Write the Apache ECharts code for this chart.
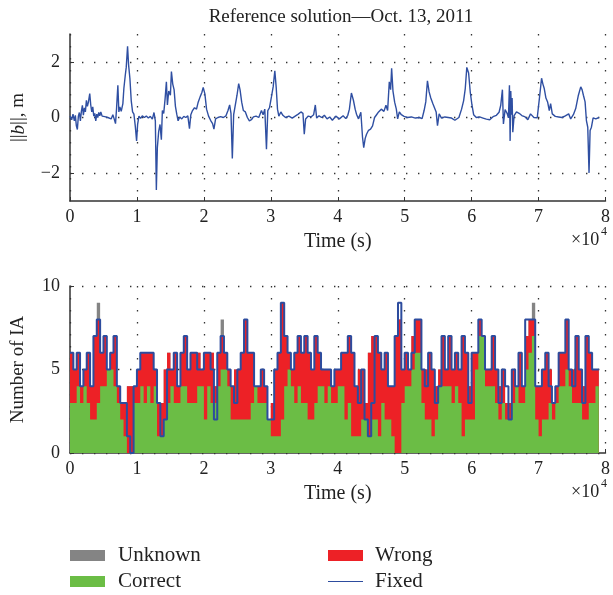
<!DOCTYPE html>
<html>
<head>
<meta charset="utf-8">
<script src="https://cdn.jsdelivr.net/npm/echarts@6/dist/echarts.min.js"></script>
<style>
html,body{margin:0;padding:0;background:#fff;}
#main{width:613px;height:595px;}
</style>
</head>
<body>
<div id="main"></div>
<script>
// ||b|| (m) against time (s)
var normB = [[0,0.05],[250,-0.08],[450,0.12],[650,-0.12],[800,0.08],[950,-0.3],[1100,-0.43],[1250,0.05],[1400,0.18],[1550,-0.12],[1700,0.22],[1850,0.44],[2000,0.08],[2150,0.35],[2300,0.2],[2450,0.62],[2600,0.4],[2750,0.55],[2950,0.86],[3100,0.45],[3250,0.2],[3400,0.38],[3550,0.05],[3700,0.15],[3850,-0.12],[4000,0.12],[4150,0.0],[4300,0.18],[4450,0.06],[4600,0.2],[4800,0.05],[5000,0.12],[5200,0.03],[5400,0.1],[5650,0.0],[5900,0.06],[6150,-0.05],[6400,0.1],[6600,-0.05],[6800,-0.22],[6950,0.3],[7150,1.16],[7300,0.2],[7450,0.38],[7650,0.22],[7900,0.5],[8050,1.05],[8250,1.5],[8400,1.8],[8600,2.56],[8750,1.9],[8950,1.4],[9150,0.6],[9350,0.2],[9550,0.12],[9750,-0.3],[9950,-0.84],[10100,-0.25],[10300,0.05],[10550,-0.03],[10800,0.06],[11100,0.0],[11400,0.05],[11700,-0.02],[12000,0.04],[12300,-0.06],[12550,0.18],[12750,-0.12],[12900,-2.6],[13050,-1.08],[13250,-0.5],[13450,-0.25],[13650,-0.8],[13800,0.25],[14000,0.15],[14200,0.65],[14400,1.28],[14550,0.45],[14750,0.95],[15000,0.8],[15150,1.65],[15350,1.2],[15550,1.0],[15750,0.4],[15950,0.12],[16150,-0.12],[16400,0.02],[16700,-0.05],[17000,0.04],[17300,0.0],[17600,0.06],[17850,-0.4],[18050,0.1],[18300,0.25],[18600,0.35],[18900,0.3],[19150,0.55],[19450,0.75],[19700,0.9],[19900,1.08],[20150,0.85],[20400,0.3],[20700,0.05],[21000,-0.1],[21300,-0.22],[21500,-0.42],[21750,-0.05],[22100,0.0],[22500,0.03],[22900,0.0],[23300,0.06],[23600,0.25],[23850,0.45],[24050,0.15],[24250,-1.47],[24450,0.1],[24700,0.45],[24950,0.8],[25200,1.22],[25400,1.0],[25650,0.55],[25900,0.25],[26200,0.2],[26500,0.0],[26800,-0.12],[27100,-0.08],[27400,0.02],[27800,0.05],[28200,0.0],[28600,0.25],[28850,0.1],[29100,0.3],[29350,-1.14],[29550,0.25],[29800,0.35],[30100,0.75],[30350,1.1],[30600,1.68],[30800,1.1],[31000,0.3],[31200,0.05],[31500,0.2],[31800,0.08],[32200,0.0],[32700,0.05],[33200,-0.02],[33700,0.06],[34100,0.12],[34500,0.2],[34800,0.15],[35000,-0.6],[35200,-0.05],[35600,0.05],[36000,0.02],[36400,0.1],[36650,0.45],[36850,-0.02],[37200,0.06],[37600,0.0],[38000,0.08],[38400,-0.05],[38800,0.02],[39200,-0.1],[39700,0.05],[40250,-0.05],[40800,0.06],[41200,-0.04],[41500,0.08],[41740,0.3],[42040,0.88],[42340,0.62],[42600,0.3],[42800,0.12],[43100,-0.05],[43450,0.19],[43700,-0.71],[43880,-1.08],[44100,-0.75],[44300,-0.6],[44600,-0.46],[44900,-0.42],[45200,-0.3],[45500,0.0],[45800,0.1],[46100,0.2],[46500,0.3],[46900,0.22],[47200,0.44],[47450,0.25],[47700,1.28],[47900,1.0],[48050,1.77],[48250,0.95],[48500,0.55],[48750,0.3],[48950,-0.05],[49200,0.2],[49500,0.1],[49900,0.04],[50400,0.0],[51000,0.02],[51600,-0.02],[52200,0.0],[52600,-0.04],[52900,0.25],[53150,0.56],[53400,1.32],[53650,0.92],[53900,0.7],[54200,0.5],[54450,0.35],[54700,0.2],[54900,-0.29],[55150,0.13],[55500,-0.02],[56000,0.02],[56500,0.0],[57000,-0.02],[57500,-0.1],[57700,-0.17],[58100,0.0],[58500,0.3],[58800,0.6],[59050,1.04],[59280,1.8],[59550,1.6],[59800,0.9],[60050,0.45],[60300,0.1],[60700,0.0],[61200,0.02],[61700,-0.02],[62200,-0.06],[62700,-0.08],[63200,0.03],[63700,0.08],[64100,0.19],[64350,0.44],[64600,1.0],[64750,-0.23],[65000,0.28],[65300,0.15],[65500,-0.01],[65650,1.16],[65750,-0.84],[65850,0.95],[65950,0.1],[66050,0.7],[66150,-0.53],[66350,0.07],[66700,0.2],[67100,0.15],[67500,0.07],[68000,0.02],[68400,-0.08],[68800,0.13],[69300,0.0],[69800,-0.01],[70150,0.74],[70450,1.41],[70650,1.2],[70850,1.04],[71100,0.7],[71350,0.56],[71600,0.25],[71800,0.5],[72050,0.13],[72500,0.04],[73000,0.02],[73500,0.0],[74000,0.06],[74500,0.13],[74800,-0.05],[75200,0.1],[75550,0.32],[75950,0.8],[76300,1.1],[76500,1.0],[76700,0.8],[76950,0.56],[77150,-0.11],[77350,-0.35],[77540,-1.99],[77700,-0.47],[77900,-0.35],[78150,-0.01],[78550,-0.05],[79030,0.0]];

// number of IA per 500 s bin (lower panel)
var binSize = 500;
var correctIA = [3,3,4,3,4,3,2,2,3,4, 4,5,5,4,3,2,1,0,0,3,
  3,4,3,4,3,4,1,1,2,3, 4,3,3,4,4,3,3,3,4,4,
  2,4,3,3,4,5,5,4,2,2, 2,2,2,2,3,4,3,3,3,2,
  1,1,1,2,4,5,4,3,4,3, 3,2,2,3,4,4,3,4,3,3,
  4,4,2,3,1,1,1,2,2,1, 2,2,1,3,2,2,1,0,0,3,
  4,4,5,6,6,3,2,2,1,2, 4,4,4,4,3,4,3,1,2,2,
  2,5,7,7,4,4,4,3,2,3, 2,2,3,4,3,3,5,6,7,2,
  1,2,2,3,2,3,4,4,5,4, 3,3,3,2,2,3,3,4];
var wrongIA = [3,2,2,1,1,3,2,5,5,2, 3,0,1,3,1,1,2,4,4,1,
  2,2,3,2,3,1,2,2,3,3, 1,3,1,2,3,2,3,3,2,1,
  4,2,3,1,2,2,1,1,2,3, 3,4,6,4,3,0,1,2,1,0,
  2,4,5,7,3,1,1,3,3,3, 4,4,3,4,2,1,2,1,1,2,
  1,2,4,4,5,3,4,3,1,5, 5,5,5,2,4,2,3,7,8,2,
  2,1,2,2,2,2,3,4,4,2, 1,3,1,3,2,2,2,6,4,2,
  4,1,1,0,1,1,3,2,2,2, 1,1,2,0,3,1,2,2,1,2,
  3,3,4,2,1,1,2,2,3,1, 2,4,2,2,5,3,2,1];
var unknownIA = [0,0,0,0,0,0,0,0,1,0, 0,0,0,0,0,0,0,0,0,0,
  0,0,0,0,0,0,0,0,0,0, 0,0,0,0,0,0,0,0,0,0,
  0,0,0,0,0,1,0,0,0,0, 0,0,0,0,0,0,0,0,0,0,
  0,0,0,0,0,0,0,0,0,0, 0,0,0,0,0,0,0,0,0,0,
  0,0,0,0,0,0,0,0,0,0, 0,0,0,0,0,0,0,0,0,0,
  0,0,0,0,0,0,0,0,0,0, 0,0,0,0,0,0,0,0,0,0,
  0,0,0,0,0,0,0,0,0,0, 0,0,0,0,0,0,0,0,1,0,
  0,0,0,0,0,0,0,0,0,0, 0,0,0,0,0,0,0,0];
var fixedIA = [6,5,6,4,5,6,4,7,8,6, 7,5,6,7,4,3,3,1,0,4,
  5,6,6,6,6,5,3,1,2,5, 5,6,4,6,7,5,6,6,5,5,
  6,6,5,2,6,7,6,5,4,3, 5,6,8,6,6,4,4,5,4,2,
  2,5,6,9,7,6,5,6,7,6, 7,6,5,7,6,5,5,5,4,5,
  5,6,6,7,6,4,3,5,2,1, 3,7,6,5,6,4,4,7,9,5,
  6,5,6,8,8,5,4,6,5,3, 4,7,5,7,5,6,5,7,6,3,
  6,6,8,7,5,5,7,5,3,5, 4,2,5,4,6,4,8,8,8,4,
  4,5,6,4,3,4,6,6,8,5, 4,7,5,3,7,6,5,5];

var topTicks = [-2, 0, 2];

// cumulative tops of the stacked layers, then [time, value] pairs for step areas
function cumulate(layers) {
    var out = [];
    for (var i = 0; i < layers[0].length; i++) {
        var s = 0;
        for (var k = 0; k < layers.length; k++) s += layers[k][i];
        out.push(s);
    }
    return out;
}
function binned(arr) {
    var out = [];
    for (var i = 0; i < arr.length; i++) out.push([i * binSize, arr[i]]);
    out.push([arr.length * binSize, arr[arr.length - 1]]);
    return out;
}

var serif = 'Liberation Serif';
var txt = '#222';
var dotted = { color: '#333', width: 1.3, type: [1.4, 10.6] };
var green = '#6bbd45', red = '#ed2126', gray = '#848484', blue = '#2d4c9e';

function xAx(idx) {
    return {
        type: 'value', gridIndex: idx, min: 0, max: 80000, interval: 10000,
        name: 'Time (s)', nameLocation: 'middle', nameGap: 31,
        nameTextStyle: { fontFamily: serif, fontSize: 20, color: txt },
        axisLine: { onZero: false, lineStyle: { color: '#333', width: 1.5 } },
        axisTick: { inside: true, length: 4, lineStyle: { color: '#333' } },
        axisLabel: { fontFamily: serif, fontSize: 18, color: txt, margin: 7,
            formatter: function (v) { return String(v / 10000); } },
        splitLine: { show: true, lineStyle: dotted }
    };
}

function stepArea(name, values, color) {
    return {
        name: name, type: 'line', xAxisIndex: 1, yAxisIndex: 1, step: 'end',
        symbol: 'none', silent: true, color: color, data: binned(values),
        lineStyle: { width: 0 }, areaStyle: { color: color, opacity: 1, origin: 'start' }
    };
}

var legendFont = { fontFamily: serif, fontSize: 21, fill: txt };
function legendText(x, y, s) {
    return { type: 'text', left: x, top: y, style: Object.assign({ text: s }, legendFont) };
}

var chart = echarts.init(document.getElementById('main'));
chart.setOption({
    animation: false,
    title: {
        text: 'Reference solution\u2014Oct. 13, 2011',
        left: 336, top: 3, textAlign: 'center',
        textStyle: { fontFamily: serif, fontSize: 19, fontWeight: 'normal', color: txt }
    },
    grid: [
        { left: 70, right: 6, top: 34, height: 167 },
        { left: 70, right: 6, top: 286, height: 167 }
    ],
    xAxis: [xAx(0), xAx(1)],
    yAxis: [{
        type: 'value', gridIndex: 0, min: -3, max: 3, interval: 1,
        name: '{n|||}{b|b}{n|||, m}', nameLocation: 'middle', nameGap: 42, nameRotate: 90,
        nameTextStyle: { fontFamily: serif, fontSize: 19, color: txt,
            rich: { n: { fontFamily: serif, fontSize: 19, color: txt },
                    b: { fontFamily: serif, fontSize: 19, color: txt, fontStyle: 'italic' } } },
        axisLine: { show: true, lineStyle: { color: '#333', width: 1.5 } },
        axisTick: { inside: true, length: 4, customValues: topTicks, lineStyle: { color: '#333' } },
        axisLabel: { fontFamily: serif, fontSize: 18, color: txt, margin: 10, customValues: topTicks,
            formatter: function (v) { return v < 0 ? '\u2212' + Math.abs(v) : String(v); } },
        splitLine: { show: true, lineStyle: dotted }
    }, {
        type: 'value', gridIndex: 1, min: 0, max: 10, interval: 5,
        name: 'Number of IA', nameLocation: 'middle', nameGap: 42, nameRotate: 90,
        nameTextStyle: { fontFamily: serif, fontSize: 19, color: txt },
        axisLine: { show: true, lineStyle: { color: '#333', width: 1.5 } },
        axisTick: { inside: true, length: 4, lineStyle: { color: '#333' } },
        axisLabel: { fontFamily: serif, fontSize: 18, color: txt, margin: 10 },
        splitLine: { show: true, lineStyle: dotted }
    }],
    graphic: [
        { type: 'text', left: 571, top: 231, style: { text: '\u00d710', fontFamily: serif, fontSize: 18, fill: txt } },
        { type: 'text', left: 601, top: 226, style: { text: '4', fontFamily: serif, fontSize: 12, fill: txt } },
        { type: 'text', left: 571, top: 483, style: { text: '\u00d710', fontFamily: serif, fontSize: 18, fill: txt } },
        { type: 'text', left: 601, top: 478, style: { text: '4', fontFamily: serif, fontSize: 12, fill: txt } },
        // legend
        { type: 'rect', shape: { x: 70, y: 550, width: 35, height: 11 }, style: { fill: gray } },
        legendText(118, 545, 'Unknown'),
        { type: 'rect', shape: { x: 70, y: 576, width: 35, height: 11 }, style: { fill: green } },
        legendText(118, 571, 'Correct'),
        { type: 'rect', shape: { x: 328, y: 550, width: 35, height: 11 }, style: { fill: red } },
        legendText(375, 545, 'Wrong'),
        { type: 'line', shape: { x1: 328, y1: 581.5, x2: 363, y2: 581.5 }, style: { stroke: blue, lineWidth: 1.2 } },
        legendText(375, 571, 'Fixed')
    ],
    series: [{
        type: 'line', xAxisIndex: 0, yAxisIndex: 0, data: normB, symbol: 'none', silent: true,
        lineStyle: { color: '#2f4fa2', width: 1.4 }
    },
        stepArea('Unknown', cumulate([correctIA, wrongIA, unknownIA]), gray),
        stepArea('Wrong', cumulate([correctIA, wrongIA]), red),
        stepArea('Correct', correctIA, green),
    {
        name: 'Fixed', type: 'line', xAxisIndex: 1, yAxisIndex: 1, step: 'end',
        symbol: 'none', silent: true, color: blue, data: binned(fixedIA),
        lineStyle: { color: blue, width: 2 }
    }]
});
</script>
</body>
</html>
